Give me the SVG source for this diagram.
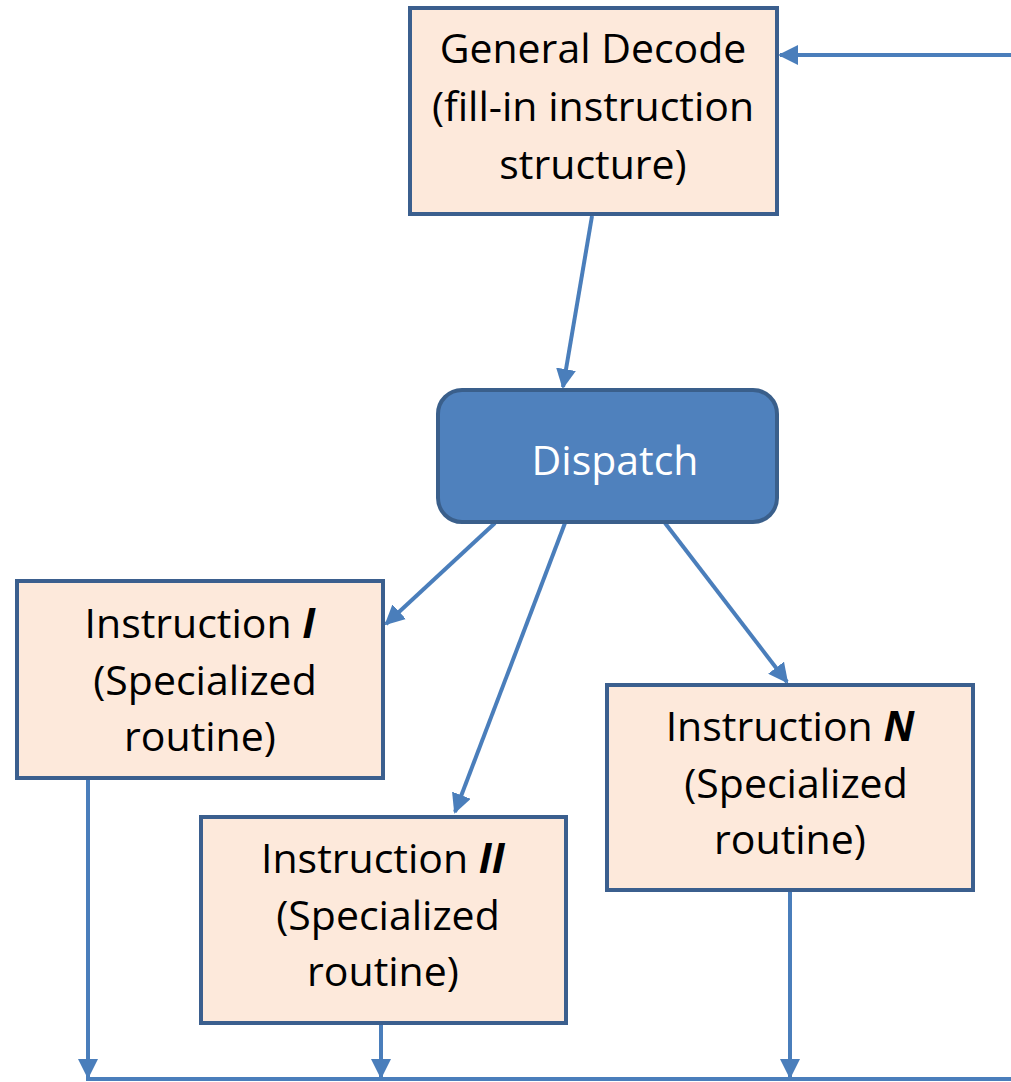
<svg xmlns="http://www.w3.org/2000/svg" width="1011" height="1082" viewBox="0 0 1011 1082">
  <defs>
    <marker id="arrow" viewBox="0 0 10 10" refX="9" refY="5" markerWidth="5" markerHeight="5" markerUnits="strokeWidth" orient="auto">
      <path d="M0,0 L10,5 L0,10 z" fill="#4a7ebb"/>
    </marker>
    <style>
      .box { fill: #fde9db; stroke: #3b5f8e; stroke-width: 4; }
      .disp { fill: #4f81bd; stroke: #3a5f8b; stroke-width: 4; }
      .lbl { font-family: "Open Sans", "Noto Sans", sans-serif; font-size: 41px; fill: #000; text-anchor: middle; }
      .wlbl { font-family: "Open Sans", "Noto Sans", sans-serif; font-size: 41px; fill: #fff; text-anchor: middle; }
      .conn { stroke: #4a7ebb; stroke-width: 4; fill: none; }
      .arr { marker-end: url(#arrow); }
    </style>
  </defs>

  <g id="connectors">
    <line class="conn arr" x1="1011" y1="55" x2="780" y2="55"/>
    <line class="conn arr" x1="592" y1="216" x2="563" y2="387"/>
    <line class="conn arr" x1="495" y1="523" x2="386" y2="624"/>
    <line class="conn arr" x1="565" y1="523" x2="455" y2="812"/>
    <line class="conn arr" x1="665" y1="523" x2="787" y2="682"/>
    <line class="conn arr" x1="88" y1="778" x2="88" y2="1077"/>
    <line class="conn arr" x1="381" y1="1023" x2="381" y2="1077"/>
    <line class="conn arr" x1="790" y1="890" x2="790" y2="1077"/>
    <line class="conn" x1="86" y1="1079" x2="1011" y2="1079"/>
  </g>

  <g id="general-decode">
    <rect class="box" x="410" y="8" width="367" height="206"/>
    <text class="lbl" x="593" y="63">General Decode</text>
    <text class="lbl" x="593" y="121">(fill-in instruction</text>
    <text class="lbl" x="593" y="179">structure)</text>
  </g>

  <g id="dispatch">
    <rect class="disp" x="438" y="390" width="339" height="132" rx="24" ry="24"/>
    <text class="wlbl" x="615" y="475">Dispatch</text>
  </g>

  <g id="instruction-i">
    <rect class="box" x="17" y="581" width="366" height="197"/>
    <text class="lbl" x="200" y="638">Instruction <tspan font-weight="bold" font-style="italic">I</tspan></text>
    <text class="lbl" x="205" y="695">(Specialized</text>
    <text class="lbl" x="200" y="751">routine)</text>
  </g>

  <g id="instruction-ii">
    <rect class="box" x="201" y="817" width="365" height="206"/>
    <text class="lbl" x="383" y="873">Instruction <tspan font-weight="bold" font-style="italic">II</tspan></text>
    <text class="lbl" x="388" y="930">(Specialized</text>
    <text class="lbl" x="383" y="986">routine)</text>
  </g>

  <g id="instruction-n">
    <rect class="box" x="607" y="685" width="366" height="205"/>
    <text class="lbl" x="790" y="741">Instruction <tspan font-weight="bold" font-style="italic">N</tspan></text>
    <text class="lbl" x="796" y="798">(Specialized</text>
    <text class="lbl" x="790" y="854">routine)</text>
  </g>
</svg>
